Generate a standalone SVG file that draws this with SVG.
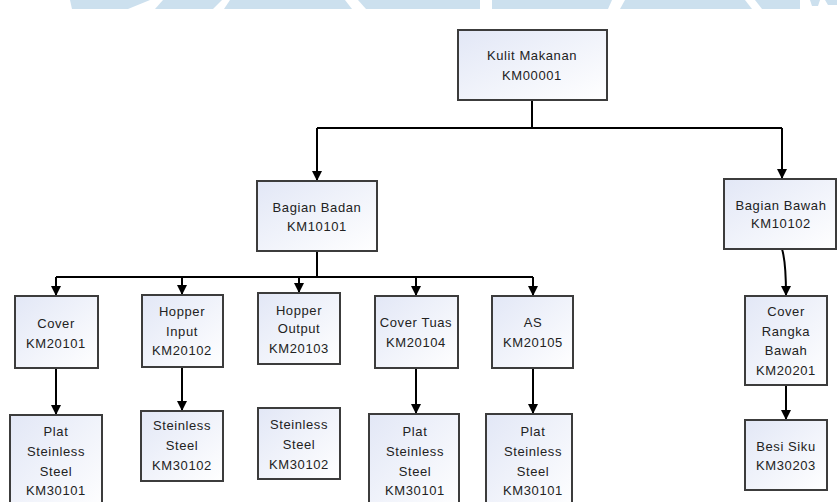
<svg xmlns="http://www.w3.org/2000/svg" width="837" height="502" viewBox="0 0 837 502">
  <style>
    .box { fill: url(#boxFill); stroke: #3c3c3c; stroke-width: 2; }
    .lbl { font-family: "Liberation Sans", Arial, sans-serif; font-size: 13px; fill: #222; text-anchor: middle; letter-spacing: 0.6px; }
    .wire { fill: none; stroke: #000; stroke-width: 2; }
    .arrow { fill: none; stroke: #000; stroke-width: 2; marker-end: url(#head); }
    .band { fill: #cce0ee; }
  </style>
  <defs>
    <linearGradient id="boxFill" x1="0" y1="0" x2="1" y2="1">
      <stop offset="0" stop-color="#e2e7f6"/>
      <stop offset="1" stop-color="#ffffff"/>
    </linearGradient>
    <marker id="head" markerWidth="10" markerHeight="10" refX="9" refY="5" orient="auto" markerUnits="userSpaceOnUse">
      <path d="M0,0 L10,5 L0,10 Z" fill="#000"/>
    </marker>
  </defs>

  <!-- light blue band along the top edge -->
  <g id="band">
    <polygon class="band" points="70,0 150,0 128,9 72,9"/>
    <polygon class="band" points="163,0 222,0 213,9 155,9"/>
    <polygon class="band" points="230,0 345,0 352,9 224,9"/>
    <polygon class="band" points="358,0 480,0 480,9 366,9"/>
    <polygon class="band" points="492,0 612,0 608,9 492,9"/>
    <polygon class="band" points="625,0 745,0 752,9 620,9"/>
    <polygon class="band" points="755,0 800,0 800,9 762,9"/>
    <polygon class="band" points="810,0 820,0 818,6 812,6"/>
    <polygon class="band" points="825,0 837,0 837,5 828,5"/>
  </g>

  <!-- connectors -->
  <g id="connectors">
    <path class="wire" d="M532,100 V128 M317,128 H782"/>
    <path class="arrow" d="M317,128 V180"/>
    <path class="arrow" d="M782,128 V178"/>
    <path class="wire" d="M317,251 V277 M56,277 H533"/>
    <path class="arrow" d="M56,277 V295"/>
    <path class="arrow" d="M182,277 V294"/>
    <path class="arrow" d="M299,277 V292"/>
    <path class="arrow" d="M416,277 V295"/>
    <path class="arrow" d="M533,277 V295"/>
    <path class="arrow" d="M782,249 Q786,262 786,295"/>
    <path class="arrow" d="M56,368 V414"/>
    <path class="arrow" d="M182,367 V410"/>
    <path class="arrow" d="M416,368 V413"/>
    <path class="arrow" d="M533,368 V413"/>
    <path class="arrow" d="M786,385 V419"/>
  </g>

  <g id="KM00001">
    <rect class="box" x="458" y="30" width="149" height="70"/>
    <text class="lbl" x="532" y="59.5">Kulit Makanan</text>
    <text class="lbl" x="532" y="79.5">KM00001</text>
  </g>

  <g id="KM10101">
    <rect class="box" x="257" y="181" width="120" height="70"/>
    <text class="lbl" x="317" y="212">Bagian Badan</text>
    <text class="lbl" x="317" y="231">KM10101</text>
  </g>

  <g id="KM10102">
    <rect class="box" x="724" y="179" width="112" height="70"/>
    <text class="lbl" x="781" y="209.5">Bagian Bawah</text>
    <text class="lbl" x="781" y="228">KM10102</text>
  </g>

  <g id="KM20101">
    <rect class="box" x="15" y="296" width="83" height="72"/>
    <text class="lbl" x="56" y="327.5">Cover</text>
    <text class="lbl" x="56" y="347.5">KM20101</text>
  </g>

  <g id="KM20102">
    <rect class="box" x="142" y="295" width="81" height="72"/>
    <text class="lbl" x="182" y="316">Hopper</text>
    <text class="lbl" x="182" y="335.5">Input</text>
    <text class="lbl" x="182" y="355">KM20102</text>
  </g>

  <g id="KM20103">
    <rect class="box" x="258" y="293" width="82" height="71"/>
    <text class="lbl" x="299" y="314.5">Hopper</text>
    <text class="lbl" x="299" y="333">Output</text>
    <text class="lbl" x="299" y="352.5">KM20103</text>
  </g>

  <g id="KM20104">
    <rect class="box" x="375" y="296" width="83" height="72"/>
    <text class="lbl" x="416" y="327">Cover Tuas</text>
    <text class="lbl" x="416" y="347">KM20104</text>
  </g>

  <g id="KM20105">
    <rect class="box" x="492" y="296" width="81" height="72"/>
    <text class="lbl" x="533" y="327">AS</text>
    <text class="lbl" x="533" y="347">KM20105</text>
  </g>

  <g id="KM20201">
    <rect class="box" x="745" y="296" width="82" height="89"/>
    <text class="lbl" x="786" y="316">Cover</text>
    <text class="lbl" x="786" y="336">Rangka</text>
    <text class="lbl" x="786" y="354.5">Bawah</text>
    <text class="lbl" x="786" y="374.5">KM20201</text>
  </g>

  <g id="KM30101-a">
    <rect class="box" x="10" y="415" width="92" height="100"/>
    <text class="lbl" x="56" y="436">Plat</text>
    <text class="lbl" x="56" y="456">Steinless</text>
    <text class="lbl" x="56" y="475.5">Steel</text>
    <text class="lbl" x="56" y="494.5">KM30101</text>
  </g>

  <g id="KM30102-a">
    <rect class="box" x="141" y="411" width="82" height="70"/>
    <text class="lbl" x="182" y="429.5">Steinless</text>
    <text class="lbl" x="182" y="449.5">Steel</text>
    <text class="lbl" x="182" y="470">KM30102</text>
  </g>

  <g id="KM30102-b">
    <rect class="box" x="258" y="408" width="82" height="71"/>
    <text class="lbl" x="299" y="428.5">Steinless</text>
    <text class="lbl" x="299" y="448.5">Steel</text>
    <text class="lbl" x="299" y="469">KM30102</text>
  </g>

  <g id="KM30101-b">
    <rect class="box" x="369" y="414" width="90" height="100"/>
    <text class="lbl" x="415" y="436">Plat</text>
    <text class="lbl" x="415" y="456">Steinless</text>
    <text class="lbl" x="415" y="475.5">Steel</text>
    <text class="lbl" x="415" y="494.5">KM30101</text>
  </g>

  <g id="KM30101-c">
    <rect class="box" x="486" y="414" width="86" height="100"/>
    <text class="lbl" x="533" y="436">Plat</text>
    <text class="lbl" x="533" y="456">Steinless</text>
    <text class="lbl" x="533" y="475.5">Steel</text>
    <text class="lbl" x="533" y="494.5">KM30101</text>
  </g>

  <g id="KM30203">
    <rect class="box" x="745" y="420" width="82" height="70"/>
    <text class="lbl" x="786" y="450.5">Besi Siku</text>
    <text class="lbl" x="786" y="469.5">KM30203</text>
  </g>
</svg>
